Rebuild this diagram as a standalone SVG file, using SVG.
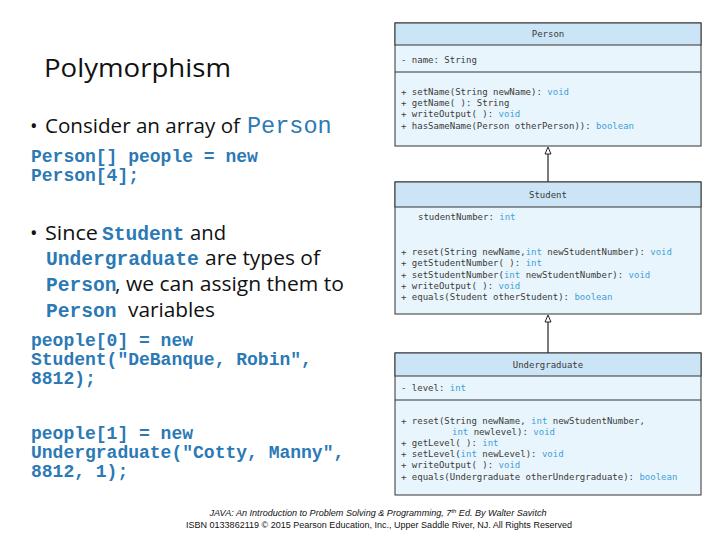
<svg xmlns="http://www.w3.org/2000/svg" width="720" height="540" viewBox="0 0 720 540">
<style>
.slide{font-family:"Open Sans","Noto Sans","DejaVu Sans",sans-serif;fill:#111}
.code{font-family:"Liberation Mono","Courier New",monospace;font-weight:bold;fill:#2b79b5}
.uml{font-family:"DejaVu Sans Mono","Liberation Mono",monospace;font-size:9px;fill:#3a3a3a}
.t{fill:#3fa0d8}
.hdr{fill:#cbe5f6;stroke:#333;stroke-width:1}
.body{fill:#e9f5fc;stroke:#333;stroke-width:1}
.sep{stroke:#333;stroke-width:1}
.conn{stroke:#222;stroke-width:1.2;fill:none}
.head{fill:#fff;stroke:#222;stroke-width:1}
.foot{font-family:"Liberation Sans",Arial,sans-serif;font-size:8.5px;fill:#111}
</style>
<rect width="720" height="540" fill="#fff"/>
<g id="text">
<text class="slide" x="44" y="77" font-size="26" textLength="187" lengthAdjust="spacingAndGlyphs">Polymorphism</text>
<text class="slide" x="30" y="133" font-size="20">•</text>
<text class="slide" x="45" y="133" font-size="20" textLength="195" lengthAdjust="spacingAndGlyphs">Consider an array of</text>
<text class="code" x="247" y="133" font-size="23.5" style="font-weight:normal">Person</text>
<text class="code" x="31" y="162" font-size="18">Person[] people = new</text>
<text class="code" x="31" y="181" font-size="18">Person[4];</text>
<text class="slide" x="30" y="240" font-size="20">•</text>
<text class="slide" x="45" y="240" font-size="20" textLength="53" lengthAdjust="spacingAndGlyphs">Since</text>
<text class="code" x="102" y="240" font-size="19.6">Student</text>
<text class="slide" x="190" y="240" font-size="20" textLength="36" lengthAdjust="spacingAndGlyphs">and</text>
<text class="code" x="46" y="265" font-size="19.6">Undergraduate</text>
<text class="slide" x="205" y="265" font-size="20" textLength="115" lengthAdjust="spacingAndGlyphs">are types of</text>
<text class="code" x="46" y="291" font-size="19.6">Person</text>
<text class="slide" x="115" y="291" font-size="20" textLength="229" lengthAdjust="spacingAndGlyphs">, we can assign them to</text>
<text class="code" x="46" y="317" font-size="19.6">Person</text>
<text class="slide" x="128" y="317" font-size="20" textLength="87" lengthAdjust="spacingAndGlyphs">variables</text>
<text class="code" x="31" y="346" font-size="18">people[0] = new</text>
<text class="code" x="31" y="365" font-size="18">Student("DeBanque, Robin",</text>
<text class="code" x="31" y="384" font-size="18">8812);</text>
<text class="code" x="31" y="439" font-size="18">people[1] = new</text>
<text class="code" x="31" y="458" font-size="18">Undergraduate("Cotty, Manny",</text>
<text class="code" x="31" y="477" font-size="18">8812, 1);</text>
<text class="foot" x="378" y="516" text-anchor="middle" font-style="italic" textLength="337" lengthAdjust="spacingAndGlyphs">JAVA: An Introduction to Problem Solving &amp; Programming, 7<tspan font-size="5.5" dy="-3">th</tspan><tspan dy="3"> Ed. By Walter Savitch</tspan></text>
<text class="foot" x="379" y="528" text-anchor="middle" textLength="386" lengthAdjust="spacingAndGlyphs">ISBN 0133862119 © 2015 Pearson Education, Inc., Upper Saddle River, NJ. All Rights Reserved</text>
</g>
<g id="connectors">
<line class="conn" x1="548" y1="182" x2="548" y2="154"/>
<polygon class="head" points="548,147 545,154 551,154"/>
<line class="conn" x1="548" y1="353" x2="548" y2="322"/>
<polygon class="head" points="548,315 545,322 551,322"/>
</g>
<g id="Person">
<rect class="body" x="395" y="23" width="306" height="123"/>
<rect class="hdr" x="395" y="23" width="306" height="22"/>
<line class="sep" x1="395" y1="72" x2="701" y2="72"/>
<text class="uml" x="548" y="37" text-anchor="middle">Person</text>
<text class="uml" x="401" y="63">- name: String</text>
<text class="uml" x="401" y="95">+ setName(String newName): <tspan class="t">void</tspan></text>
<text class="uml" x="401" y="106">+ getName( ): String</text>
<text class="uml" x="401" y="117">+ writeOutput( ): <tspan class="t">void</tspan></text>
<text class="uml" x="401" y="129">+ hasSameName(Person otherPerson)): <tspan class="t">boolean</tspan></text>
</g>
<g id="Student">
<rect class="body" x="395" y="182" width="306" height="132"/>
<rect class="hdr" x="395" y="182" width="306" height="25"/>
<text class="uml" x="548" y="198" text-anchor="middle">Student</text>
<text class="uml" x="418" y="220">studentNumber: <tspan class="t">int</tspan></text>
<text class="uml" x="401" y="255">+ reset(String newName,<tspan class="t">int</tspan> newStudentNumber): <tspan class="t">void</tspan></text>
<text class="uml" x="401" y="266">+ getStudentNumber( ): <tspan class="t">int</tspan></text>
<text class="uml" x="401" y="277.5">+ setStudentNumber(<tspan class="t">int</tspan> newStudentNumber): <tspan class="t">void</tspan></text>
<text class="uml" x="401" y="289">+ writeOutput( ): <tspan class="t">void</tspan></text>
<text class="uml" x="401" y="300">+ equals(Student otherStudent): <tspan class="t">boolean</tspan></text>
</g>
<g id="Undergraduate">
<rect class="body" x="395" y="353" width="306" height="142"/>
<rect class="hdr" x="395" y="353" width="306" height="23"/>
<line class="sep" x1="395" y1="400" x2="701" y2="400"/>
<text class="uml" x="548" y="368" text-anchor="middle">Undergraduate</text>
<text class="uml" x="401" y="391">- level: <tspan class="t">int</tspan></text>
<text class="uml" x="401" y="424">+ reset(String newName, <tspan class="t">int</tspan> newStudentNumber,</text>
<text class="uml" x="452" y="435"><tspan class="t">int</tspan> newlevel): <tspan class="t">void</tspan></text>
<text class="uml" x="401" y="446">+ getLevel( ): <tspan class="t">int</tspan></text>
<text class="uml" x="401" y="457">+ setLevel(<tspan class="t">int</tspan> newLevel): <tspan class="t">void</tspan></text>
<text class="uml" x="401" y="468">+ writeOutput( ): <tspan class="t">void</tspan></text>
<text class="uml" x="401" y="480">+ equals(Undergraduate otherUndergraduate): <tspan class="t">boolean</tspan></text>
</g>
</svg>
